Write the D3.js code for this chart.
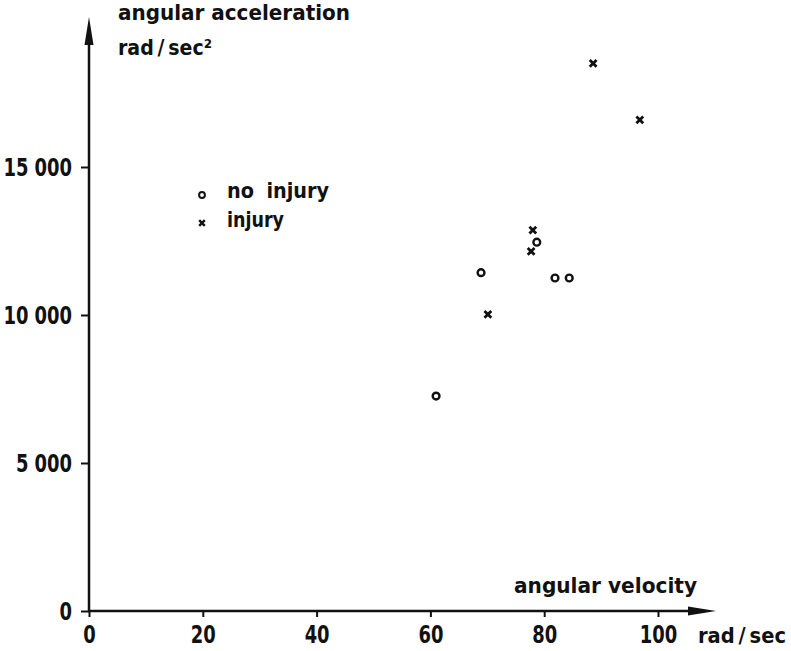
<!DOCTYPE html>
<html>
<head>
<meta charset="utf-8">
<script src="https://cdn.jsdelivr.net/npm/d3@7/dist/d3.min.js"></script>
<style>
  html, body { margin: 0; padding: 0; background: #fff; }
  svg { display: block; }
  text { font-family: "DejaVu Sans Condensed", "DejaVu Sans", sans-serif; font-weight: bold; fill: #111; }
</style>
</head>
<body>
<svg id="chart" width="791" height="651"></svg>
<script>
// Angular velocity (rad/sec) and angular acceleration (rad/sec²) per case
const noInjuryVelocity = [61.0, 68.9, 78.7, 81.9, 84.4];
const noInjuryAccel    = [7260, 11430, 12460, 11250, 11250];
const injuryVelocity   = [70.1, 77.7, 78.0, 88.6, 96.8];
const injuryAccel      = [10020, 12150, 12870, 18500, 16590];

const xTicks = [0, 20, 40, 60, 80, 100];
const yTicks = [0, 5000, 10000, 15000];
const yTickLabels = ["0", "5 000", "10 000", "15 000"];

const svg = d3.select("#chart");
const ink = "#111";

const x = d3.scaleLinear().domain([0, 100]).range([89, 658]);
const y = d3.scaleLinear().domain([0, 15000]).range([611, 167]);

// squeeze a text horizontally to a share of its natural width
function condense(sel, factor) {
  sel.each(function () {
    const w = this.getComputedTextLength();
    d3.select(this).attr("textLength", w * factor).attr("lengthAdjust", "spacingAndGlyphs");
  });
}
// fit a text to a given width
function fit(sel, width) {
  sel.attr("textLength", width).attr("lengthAdjust", "spacingAndGlyphs");
}

// x axis
const xAxis = d3.axisBottom(x).tickValues(xTicks).tickSize(6).tickFormat(d => String(d));
const gx = svg.append("g").attr("transform", `translate(0,${y(0)})`).call(xAxis);
gx.select(".domain").remove();
gx.selectAll(".tick line").attr("stroke", ink).attr("stroke-width", 2);
gx.selectAll(".tick text").attr("dy", 0).attr("y", 32).attr("font-size", 24).attr("fill", ink)
  .call(condense, 0.83);

// y axis
const yAxis = d3.axisLeft(y).tickValues(yTicks).tickSize(8).tickFormat((d, i) => yTickLabels[i]);
const gy = svg.append("g").attr("transform", `translate(${x(0)},0)`).call(yAxis);
gy.select(".domain").remove();
gy.selectAll(".tick line").attr("stroke", ink).attr("stroke-width", 2);
gy.selectAll(".tick text").attr("x", -17).attr("dy", "0.36em").attr("font-size", 24).attr("fill", ink)
  .call(condense, 0.83);

// axis lines with arrowheads
const x0 = x(0), y0 = y(0);
svg.append("line").attr("x1", x0 - 1).attr("x2", 692).attr("y1", y0).attr("y2", y0)
  .attr("stroke", ink).attr("stroke-width", 2.5);
svg.append("path").attr("d", `M716,${y0} L688,${y0 - 4.5} L688,${y0 + 4.5} Z`).attr("fill", ink);
svg.append("line").attr("x1", x0).attr("x2", x0).attr("y1", y0 + 1).attr("y2", 40)
  .attr("stroke", ink).attr("stroke-width", 2.5);
svg.append("path").attr("d", `M${x0},17 L${x0 - 4.5},45 L${x0 + 4.5},45 Z`).attr("fill", ink);

// axis titles
const unit = "rad\u2009/\u2009sec";
svg.append("text").attr("x", 118).attr("y", 20).attr("font-size", 22)
  .text("angular acceleration").call(fit, 232);
svg.append("text").attr("x", 118).attr("y", 55).attr("font-size", 22)
  .text(unit + "\u00B2").call(fit, 94);
svg.append("text").attr("x", 514).attr("y", 593).attr("font-size", 22)
  .text("angular velocity").call(fit, 183);
svg.append("text").attr("x", 698).attr("y", 643).attr("font-size", 22)
  .text(unit).call(fit, 88);

// markers
const noInjury = noInjuryVelocity.map((v, i) => ({ v, a: noInjuryAccel[i] }));
const injury = injuryVelocity.map((v, i) => ({ v, a: injuryAccel[i] }));

function cross(g, cx, cy, s, w) {
  g.append("path").attr("d", `M${cx - s},${cy - s}L${cx + s},${cy + s}M${cx - s},${cy + s}L${cx + s},${cy - s}`)
    .attr("stroke", ink).attr("stroke-width", w).attr("fill", "none");
}

svg.append("g").selectAll("circle").data(noInjury).join("circle")
  .attr("cx", d => x(d.v)).attr("cy", d => y(d.a)).attr("r", 3.4)
  .attr("fill", "#fff").attr("stroke", ink).attr("stroke-width", 2.4);

const gInj = svg.append("g");
injury.forEach(d => cross(gInj, x(d.v), y(d.a), 3.4, 2.8));

// legend
svg.append("circle").attr("cx", 202).attr("cy", 195).attr("r", 2.9)
  .attr("fill", "#fff").attr("stroke", ink).attr("stroke-width", 2);
svg.append("text").attr("x", 227).attr("y", 198).attr("font-size", 22)
  .attr("word-spacing", 6).text("no injury").call(fit, 102);
cross(svg, 202, 223, 2.8, 2.4);
svg.append("text").attr("x", 227).attr("y", 227).attr("font-size", 22).text("injury").call(fit, 57);
</script>
</body>
</html>
